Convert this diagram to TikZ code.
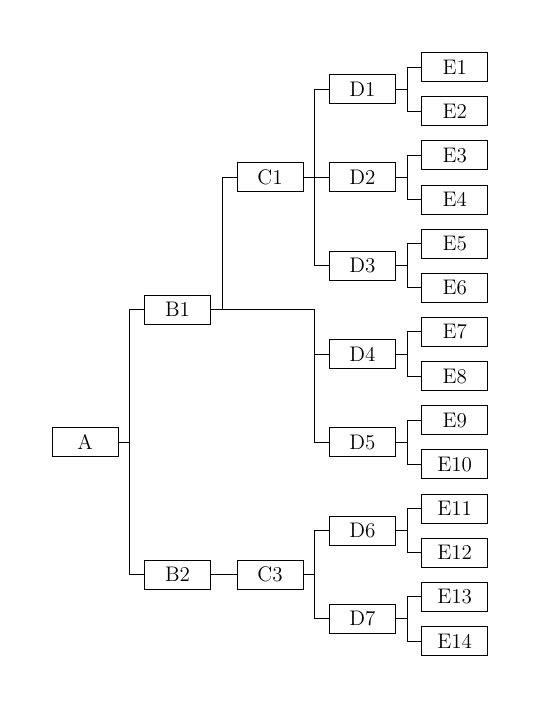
\documentclass[tikz,border=0pt]{standalone}
\usepackage{tikz}
\usetikzlibrary{calc}

\tikzset{
	box/.style={draw, line width=0.5pt, minimum width=1.32cm, minimum height=0.58cm, inner sep=0pt, font=\large},
	link/.style={line width=0.5pt}
}
\newcommand{\drawBox}[3]{
	\node[box] (#1) at (#2) {#3};
}
\newcommand{\drawLink}[2]{
	\draw[link] let
		\p1 = (#1), \p2 = (#2.west)
		in
		(\p1) -- ({\x1+0.226cm}, \y1) |- (\p2);
}

\begin{document}
\begin{tikzpicture}[x=0.02cm, y=-0.02cm]
	\useasboundingbox (0,0) rectangle (540,708);

	\drawBox{A}{85,442}{A}
	\drawBox{B1}{177.5,309.6}{B1}
	\drawBox{B2}{177.5,574.6}{B2}
	\drawBox{C1}{270,177.3}{C1}
	\drawBox{C3}{270,574.6}{C3}
	\coordinate (C2) at (303,309.6);

	\foreach \j in {1,...,7} {
		\drawBox{D\j}{362.3,{67+(2*\j-1.5)*44.15}}{D\j}
	}
	\foreach \i in {1,...,14} {
		\drawBox{E\i}{454.7,{67+(\i-1)*44.15}}{E\i}
	}

	\drawLink{A.east}{B1}
	\drawLink{A.east}{B2}
	\drawLink{B1.east}{C1}
	\draw[link] (B1.east) -- (C2);
	\drawLink{B2.east}{C3}
	\drawLink{C1.east}{D1}
	\drawLink{C1.east}{D2}
	\drawLink{C1.east}{D3}
	\drawLink{C2}{D4}
	\drawLink{C2}{D5}
	\drawLink{C3.east}{D6}
	\drawLink{C3.east}{D7}
	\foreach \j [evaluate=\j as \a using {int(2*\j-1)}, evaluate=\j as \b using {int(2*\j)}] in {1,...,7} {
		\drawLink{D\j.east}{E\a}
		\drawLink{D\j.east}{E\b}
	}
\end{tikzpicture}
\end{document}
